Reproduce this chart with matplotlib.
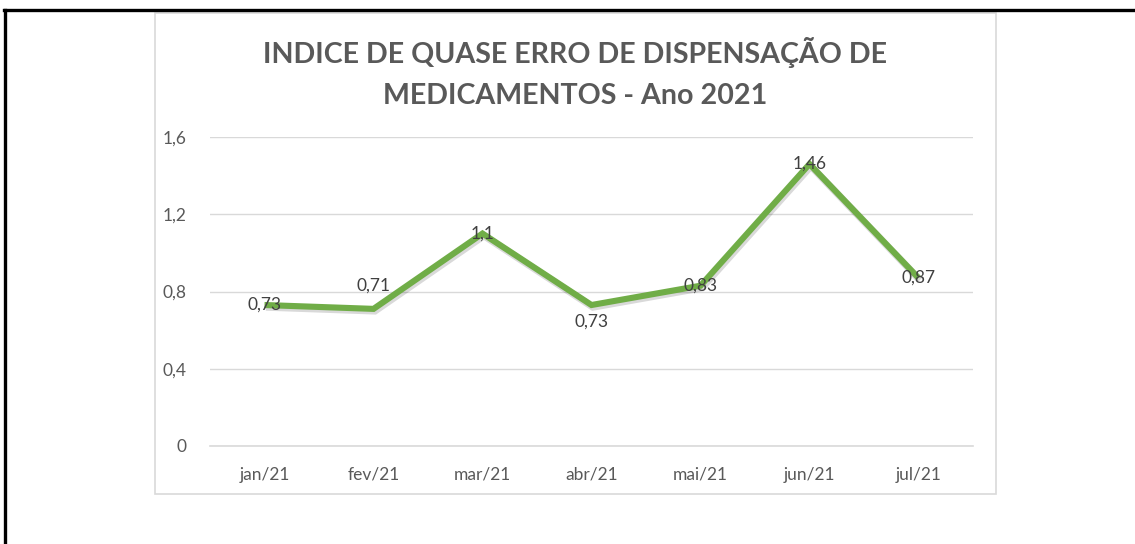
import matplotlib.pyplot as plt
import matplotlib.patheffects as pe
from matplotlib.patches import Rectangle
from matplotlib.lines import Line2D

months = ['jan/21', 'fev/21', 'mar/21', 'abr/21', 'mai/21', 'jun/21', 'jul/21']
indice = [0.73, 0.71, 1.1, 0.73, 0.83, 1.46, 0.87]
y_ticks = [0, 0.4, 0.8, 1.2, 1.6]
y_labels = ['0', '0,4', '0,8', '1,2', '1,6']
# label offsets in points (Excel put a couple above/below the line)
label_dy = [0, 17, 0, -12, 0, 0, 0]

plt.rcParams['font.family'] = ['Lato', 'DejaVu Sans']
txt_grey = '#595959'
grid_grey = '#D9D9D9'

W, H = 1135, 544
fig = plt.figure(figsize=(W / 100, H / 100), dpi=100)

# outer black frame (top and left only)
fig.add_artist(Line2D([4 / W, 1], [1 - 10 / H, 1 - 10 / H], color='black', lw=2.4, transform=fig.transFigure))
fig.add_artist(Line2D([5 / W, 5 / W], [1 - 10 / H, 0], color='black', lw=2.4, transform=fig.transFigure))

# chart box
fig.add_artist(Rectangle((155 / W, 1 - 494 / H), (996 - 155) / W, (494 - 13) / H,
                         fill=False, edgecolor=grid_grey, lw=1.2, transform=fig.transFigure))

ax = fig.add_axes([210 / W, 1 - 446 / H, (973 - 210) / W, (446 - 137) / H])
x = list(range(len(months)))
ax.plot(x, indice, color='#70AD47', lw=4.4, solid_capstyle='butt', solid_joinstyle='miter',
        path_effects=[pe.SimpleLineShadow(offset=(1, -1.5), alpha=0.15, linewidth=5.2), pe.Normal()])

for i, v in enumerate(indice):
    ax.annotate(('%g' % v).replace('.', ','), (i, v), xytext=(0, label_dy[i]),
                textcoords='offset points', ha='center', va='center',
                fontsize=12.5, color='#404040')

ax.set_xlim(-0.5, len(months) - 0.5)
ax.set_ylim(0, 1.6)
ax.set_yticks(y_ticks)
ax.set_yticklabels(y_labels)
ax.set_xticks(x)
ax.set_xticklabels(months)
ax.tick_params(axis='both', length=0, labelsize=12.5, colors=txt_grey)
ax.tick_params(axis='y', pad=17)
ax.tick_params(axis='x', pad=15)
ax.grid(axis='y', color=grid_grey, lw=1)
ax.set_axisbelow(True)
for s in ['top', 'right', 'left']:
    ax.spines[s].set_visible(False)
ax.spines['bottom'].set_color(grid_grey)
ax.spines['bottom'].set_linewidth(1.2)

fig.text(575 / W, 1 - 73 / H, 'INDICE DE QUASE ERRO DE DISPENSAÇÃO DE\nMEDICAMENTOS - Ano 2021',
         ha='center', va='center', fontsize=20.6, fontweight='bold', color=txt_grey, linespacing=1.68)

plt.savefig('out.png', dpi=100)
